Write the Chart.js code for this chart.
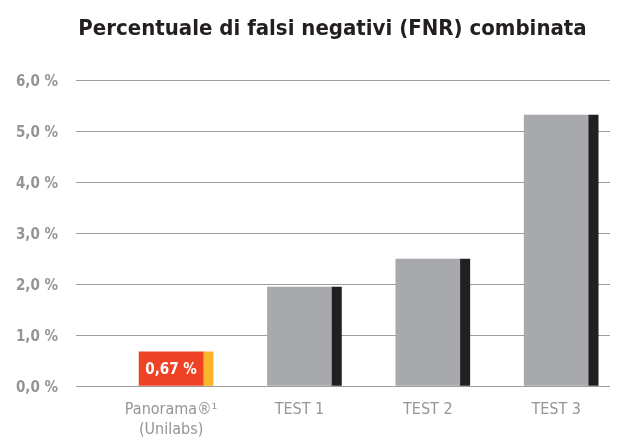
<!DOCTYPE html>
<html>
<head>
<meta charset="utf-8">
<script src="https://cdn.jsdelivr.net/npm/chart.js@4"></script>
<style>
  html, body { margin: 0; padding: 0; background: #fff; }
</style>
</head>
<body>
<canvas id="chart" width="639" height="441"></canvas>
<script>
// data
const categories = [["Panorama®¹", "(Unilabs)"], "TEST 1", "TEST 2", "TEST 3"];
const fnrValues = [0.67, 1.94, 2.49, 5.31];
const valueLabels = ["0,67 %", "", "", ""];
const yTicks = [0, 1, 2, 3, 4, 5, 6];
const chartTitle = "Percentuale di falsi negativi (FNR) combinata";

const FONT = "'DejaVu Sans Condensed', 'Liberation Sans Narrow', Roboto, sans-serif";
const points = fnrValues.map((v, i) => ({ x: i, y: v }));

// white value text inside the bars
const valueLabelPlugin = {
    id: 'valueLabels',
    afterDatasetsDraw(chart) {
        const ctx = chart.ctx;
        const meta = chart.getDatasetMeta(0);
        ctx.save();
        ctx.fillStyle = '#ffffff';
        ctx.font = 'bold 15px ' + FONT;
        ctx.textAlign = 'center';
        ctx.textBaseline = 'middle';
        meta.data.forEach((bar, i) => {
            if (!valueLabels[i]) return;
            ctx.fillText(valueLabels[i], bar.x, (bar.y + bar.base) / 2 + 1);
        });
        ctx.restore();
    }
};

// title sits a little right of the canvas centre in the original
const titlePlugin = {
    id: 'offsetTitle',
    afterDraw(chart) {
        const ctx = chart.ctx;
        ctx.save();
        ctx.fillStyle = '#231f20';
        ctx.font = 'bold 22px ' + FONT;
        ctx.textAlign = 'center';
        ctx.textBaseline = 'alphabetic';
        ctx.fillText(chartTitle, chart.width / 2 + 13, 35);
        ctx.restore();
    }
};

const chart = new Chart(document.getElementById('chart'), {
    type: 'bar',
    data: {
        datasets: [
            {
                data: points,
                backgroundColor: points.map((p, i) => i === 0 ? '#ef4123' : '#a7a9ac'),
                barThickness: 64,
                borderWidth: 0
            },
            {
                data: points,
                backgroundColor: points.map((p, i) => i === 0 ? '#fbb62d' : '#231f20'),
                barThickness: 10,
                borderWidth: 0
            }
        ]
    },
    options: {
        responsive: false,
        animation: false,
        layout: { padding: { left: 10, right: 29, top: 80, bottom: 0 } },
        plugins: {
            legend: { display: false },
            tooltip: { enabled: false },
            title: { display: false }
        },
        scales: {
            x: {
                type: 'linear',
                offset: false,
                min: -0.99,
                max: 3.17,
                grid: { display: false, drawTicks: false },
                border: { display: false },
                afterBuildTicks: (scale) => {
                    scale.ticks = categories.map((c, i) => ({ value: i }));
                },
                afterFit: (scale) => { scale.height = 55; },
                ticks: {
                    autoSkip: false,
                    maxRotation: 0,
                    padding: 13,
                    labelOffset: -32,
                    color: '#939598',
                    font: { family: FONT, size: 16, lineHeight: 1.3 },
                    callback: (v) => categories[v]
                }
            },
            y: {
                min: 0,
                max: 6,
                afterBuildTicks: (scale) => {
                    scale.ticks = yTicks.map(v => ({ value: v }));
                },
                afterFit: (scale) => { scale.width = 66; },
                grid: { color: '#9c9c9e', lineWidth: 1, drawTicks: false },
                border: { display: false },
                ticks: {
                    padding: 18,
                    labelOffset: 2,
                    color: '#939598',
                    font: { family: FONT, size: 15, weight: 'bold' },
                    callback: (v) => v.toFixed(1).replace('.', ',') + ' %'
                }
            }
        }
    },
    plugins: [valueLabelPlugin, titlePlugin]
});
</script>
</body>
</html>
